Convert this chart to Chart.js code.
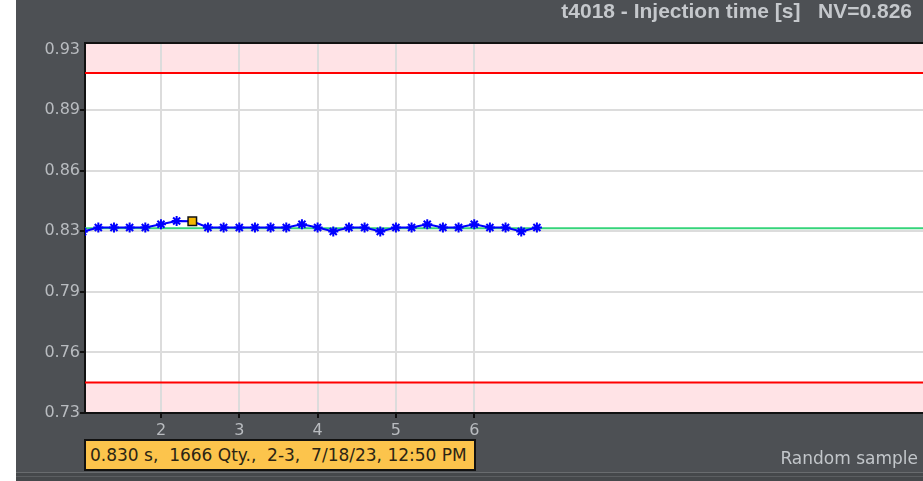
<!DOCTYPE html>
<html>
<head>
<meta charset="utf-8">
<script src="https://cdn.jsdelivr.net/npm/chart.js@4"></script>
<style>
    html, body { margin: 0; padding: 0; background: #fff; overflow: hidden; }
    #panel { position: absolute; left: 16px; top: 0; width: 907px; height: 481px; background: #4d5054; overflow: hidden; }
    #chart { position: absolute; left: 0; top: 0; }
    #title { position: absolute; right: 11px; top: -1px; line-height: 36px; font: bold 21px "Liberation Sans", Arial, sans-serif; color: #c5c8cc; white-space: pre; }
    #info { position: absolute; left: 68px; top: 439px; width: 384px; height: 28px; border: 2px solid #111; background: #fcc44c;
            font: 17px "DejaVu Sans", sans-serif; color: #2b2414; line-height: 28px; padding-left: 4px; white-space: pre; box-sizing: content-box; }
    #sample { position: absolute; right: 5px; top: 448px; line-height: 20px; font: 17px "DejaVu Sans", sans-serif; color: #c2c6ca; }
    #bar1 { position: absolute; left: 0; top: 472px; width: 907px; height: 1px; background: #696c6f; }
    #bar2 { position: absolute; left: 0; top: 473px; width: 907px; height: 8px; background: #45484b; }
    #bar3 { position: absolute; left: 0; top: 476px; width: 907px; height: 1px; background: #5b5e61; }
</style>
</head>
<body>
<div id="panel">
    <canvas id="chart" width="914" height="481"></canvas>
    <div id="title">t4018 - Injection time [s]   NV=0.826</div>
    <div id="info">0.830 s,  1666 Qty.,  2-3,  7/18/23, 12:50 PM</div>
    <div id="sample">Random sample</div>
    <div id="bar1"></div><div id="bar2"></div><div id="bar3"></div>
</div>
<script>
// ---- Daten ----
const sampleX = [1.0, 1.2, 1.4, 1.6, 1.8, 2.0, 2.2, 2.4, 2.6, 2.8,
                 3.0, 3.2, 3.4, 3.6, 3.8, 4.0, 4.2, 4.4, 4.6, 4.8,
                 5.0, 5.2, 5.4, 5.6, 5.8, 6.0, 6.2, 6.4, 6.6, 6.8];
const sampleY = [0.8297, 0.832, 0.832, 0.832, 0.832, 0.8338, 0.8356, 0.8354, 0.832, 0.832,
                 0.832, 0.832, 0.832, 0.832, 0.8338, 0.832, 0.8298, 0.832, 0.832, 0.8298,
                 0.832, 0.832, 0.8338, 0.832, 0.832, 0.8338, 0.832, 0.832, 0.8298, 0.832];
const selectedIndex = 7;

const upperLimit = 0.917;
const lowerLimit = 0.7468;
const meanLine = 0.8316;

const xMin = 1.03, xMax = 11.73;
const yMin = 0.73, yMax = 0.9335;

const xTickValues = [2, 3, 4, 5, 6];
const yTickValues = [0.73, 0.7633, 0.7967, 0.83, 0.8633, 0.8967, 0.93];
const yTickLabels = ['0.73', '0.76', '0.79', '0.83', '0.86', '0.89', '0.93'];

// ---- Hintergrund + rote Bereiche ----
const bandPlugin = {
    id: 'bands',
    beforeDraw(chart) {
        const { ctx, chartArea: a, scales: { y } } = chart;
        ctx.save();
        ctx.fillStyle = '#ffffff';
        ctx.fillRect(a.left, a.top, a.right - a.left, a.bottom - a.top);
        ctx.fillStyle = '#ffe3e6';
        const up = y.getPixelForValue(upperLimit);
        const lo = y.getPixelForValue(lowerLimit);
        ctx.fillRect(a.left, a.top, a.right - a.left, up - a.top);
        ctx.fillRect(a.left, lo, a.right - a.left, a.bottom - lo);
        ctx.restore();
    },
    afterDraw(chart) {
        const { ctx, chartArea: a } = chart;
        ctx.save();
        ctx.strokeStyle = '#111';
        ctx.lineWidth = 2;
        ctx.beginPath();
        ctx.moveTo(a.left - 1, a.top);
        ctx.lineTo(a.right, a.top);
        ctx.stroke();
        ctx.restore();
    }
};

const points = sampleX.map((x, i) => ({ x, y: sampleY[i] }));
const hline = v => [{ x: xMin, y: v }, { x: xMax, y: v }];
const lastY = yTickValues.length - 1;

new Chart(document.getElementById('chart'), {
    type: 'line',
    data: {
        datasets: [
            {
                data: points,
                borderColor: '#0000ff',
                borderWidth: 2,
                pointStyle: ctx => ctx.dataIndex === selectedIndex ? 'rect' : 'star',
                pointRadius: ctx => ctx.dataIndex === selectedIndex ? 6 : 5,
                pointBorderColor: ctx => ctx.dataIndex === selectedIndex ? '#111' : '#0000ff',
                pointBackgroundColor: ctx => ctx.dataIndex === selectedIndex ? '#f5b800' : '#0000ff',
                pointBorderWidth: ctx => ctx.dataIndex === selectedIndex ? 1.5 : 2,
                tension: 0
            },
            { data: hline(meanLine), borderColor: '#35d47a', borderWidth: 2, pointRadius: 0 },
            { data: hline(upperLimit), borderColor: '#ff0000', borderWidth: 2, pointRadius: 0 },
            { data: hline(lowerLimit), borderColor: '#ff0000', borderWidth: 2, pointRadius: 0 }
        ]
    },
    options: {
        responsive: false,
        animation: false,
        devicePixelRatio: 1,
        layout: { padding: { top: 43, right: 0, left: 0, bottom: 0 } },
        plugins: { legend: { display: false }, tooltip: { enabled: false } },
        scales: {
            x: {
                type: 'linear',
                min: xMin,
                max: xMax,
                afterBuildTicks: s => { s.ticks = xTickValues.map(v => ({ value: v })); },
                afterFit: s => { s.height = 68; },
                grid: { color: '#dcdcdc', lineWidth: 2, tickColor: '#111', tickLength: 5 },
                border: { color: '#111', width: 2 },
                ticks: {
                    color: '#b9bcc0',
                    font: { family: 'DejaVu Sans', size: 16 },
                    padding: 3,
                    maxRotation: 0,
                    callback: v => String(v)
                }
            },
            y: {
                type: 'linear',
                min: yMin,
                max: yMax,
                afterBuildTicks: s => { s.ticks = yTickValues.map(v => ({ value: v })); },
                afterFit: s => { s.width = 69; },
                grid: {
                    color: c => c.index === lastY ? 'rgba(0,0,0,0)' : '#dcdcdc',
                    tickColor: c => c.index === lastY ? 'rgba(0,0,0,0)' : '#111',
                    lineWidth: 2,
                    tickLength: 5
                },
                border: { color: '#111', width: 2 },
                ticks: {
                    color: '#b9bcc0',
                    font: { family: 'DejaVu Sans', size: 16 },
                    padding: 0,
                    callback: (v, i) => yTickLabels[i]
                }
            }
        }
    },
    plugins: [bandPlugin]
});
</script>
</body>
</html>
